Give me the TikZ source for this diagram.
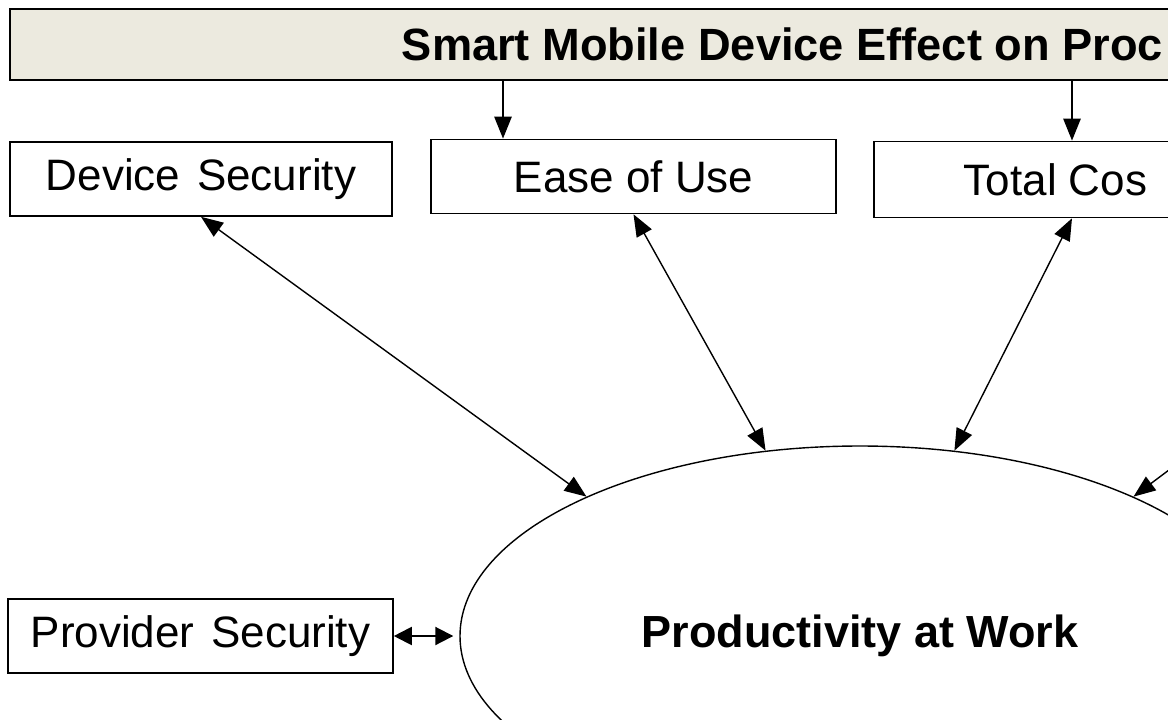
\documentclass[tikz,border=0pt]{standalone}
\usepackage{fontspec}
\setmainfont{Liberation Sans}
\usepackage{tikz}
\usetikzlibrary{arrows.meta,shapes.geometric,positioning}
\definecolor{headfill}{RGB}{236,234,223}
\tikzset{
    %Define standard arrow tip
    >={Triangle[length=11pt,width=8.5pt]},
    %Define style for boxes
    factor/.style={
           rectangle,
           draw=black, line width=0.8pt,
           minimum width=191pt,
           minimum height=37pt,
           font=\fontsize{22}{26}\selectfont,
           text centered},
    header/.style={
           rectangle,
           draw=black, line width=0.9pt,
           fill=headfill,
           anchor=west,
           inner xsep=196pt,
           minimum height=35.5pt,
           font=\bfseries\fontsize{22.6}{27}\selectfont},
    outcome/.style={
           ellipse,
           draw=black, line width=0.7pt,
           minimum width=400pt,
           minimum height=190pt,
           font=\bfseries\fontsize{22.5}{27}\selectfont,
           text centered},
    % Define arrow style
    pil/.style={
           <->,
           line width=0.7pt,
           shorten <=0pt,
           shorten >=0pt,},
    down/.style={
           ->,
           line width=1.3pt}
}
\begin{document}
\begin{tikzpicture}[x=0.5pt,y=-0.5pt]
\useasboundingbox (0,0) rectangle (1168,719);
\clip (0,0) rectangle (1168,719);
\node[header](head) at (9,44.5){Smart Mobile Device Effect on Proc};
\node[factor](ds) at (201,179){Device\hspace{0.38em}Security};
\node[factor, minimum width=202.5pt](ease) at (633.5,176.5){Ease of Use};
\node[factor, anchor=west, inner xsep=45pt, minimum width=150pt, minimum height=38pt](tc) at (873,179.5){Total Cos};
\node[factor, minimum width=192.5pt](ps) at (200.5,636){Provider\hspace{0.38em}Security};
\node[outcome](prod) at (860,636){Productivity at Work};
\coordinate (c1) at (503,0);
\coordinate (c2) at (1072,0);
\coordinate (off) at (1508,215);
\draw[down] (head.south -| c1) -- (ease.north -| c1);
\draw[down] (head.south -| c2) -- (tc.north -| c2);
\path[pil]
	(ds.south) edge (prod.153.9)
	(ease.south) edge (prod.117.5)
	(tc.south -| c2) edge (prod.63.4)
	(off) edge (prod.27.1);
\draw[line width=1pt, {Triangle[length=9pt,width=9pt]}-{Triangle[length=9pt,width=9pt]}, shorten >=3pt] (ps.east) -- (prod.180);
\end{tikzpicture}
\end{document}
